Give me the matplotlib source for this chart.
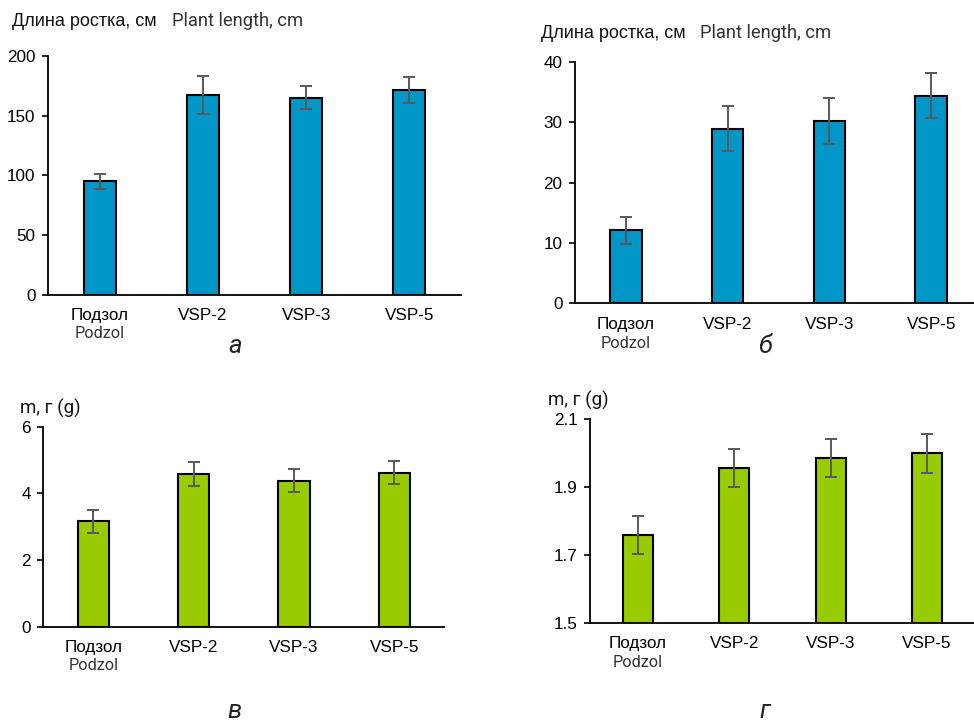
import matplotlib
matplotlib.use("Agg")
import matplotlib.pyplot as plt
import matplotlib.transforms as mtransforms
import numpy as np

categories = ["Подзол", "VSP-2", "VSP-3", "VSP-5"]
sub_label = "Podzol"

len_a = [95.0, 167.5, 165.0, 171.5]
err_a = [6.5, 16.0, 9.5, 10.5]
len_b = [12.1, 28.9, 30.2, 34.4]
err_b = [2.25, 3.7, 3.75, 3.7]
mass_c = [3.16, 4.58, 4.38, 4.62]
err_c = [0.35, 0.35, 0.35, 0.35]
mass_d = [1.759, 1.956, 1.986, 2.000]
err_d = [0.057, 0.056, 0.056, 0.057]

blue = "#0096C8"
green = "#99CC00"
ARIAL = ["Liberation Sans", "DejaVu Sans"]
ROBOTO = ["Roboto", "DejaVu Sans"]

fig = plt.figure(figsize=(9.74, 7.25), dpi=100)

def panel(rect, vals, errs, color, ylim, yticks, yticklabels, sub_dy):
    ax = fig.add_axes(rect)
    x = np.arange(len(vals))
    ax.bar(x, vals, width=0.31, color=color, edgecolor="black", linewidth=1.5, zorder=2)
    ax.errorbar(x, vals, yerr=errs, fmt="none", ecolor="#595959",
                elinewidth=1.4, capsize=4, capthick=1.4, zorder=3)
    ax.set_xlim(-0.5, 3.5)
    ax.set_ylim(*ylim)
    ax.set_yticks(yticks)
    ax.set_yticklabels(yticklabels, fontfamily=ARIAL, fontsize=12.3)
    ax.set_xticks(x)
    ax.set_xticklabels(categories, fontfamily=ARIAL, fontsize=12.3)
    ax.tick_params(axis="x", length=0, pad=9.5)
    ax.tick_params(axis="y", length=4, width=1.2, pad=5, direction="out")
    for s in ["top", "right"]:
        ax.spines[s].set_visible(False)
    for s in ["left", "bottom"]:
        ax.spines[s].set_linewidth(1.3)
        ax.spines[s].set_color("black")
    ax.patch.set_alpha(0)
    trans = mtransforms.blended_transform_factory(ax.transData, ax.transAxes)
    ax.annotate(sub_label, xy=(0, 0), xycoords=trans, xytext=(0, -sub_dy * 0.72),
                textcoords="offset points", ha="center", va="center",
                fontfamily=ROBOTO, fontsize=11.7, color="#333333",
                annotation_clip=False)
    return ax

panel([0.0493, 0.5931, 0.424, 0.3297], len_a, err_a, blue,
      (0, 200), [0, 50, 100, 150, 200], ["0", "50", "100", "150", "200"], 38.5)
panel([0.5903, 0.5816, 0.418, 0.3333], len_b, err_b, blue,
      (0, 40), [0, 10, 20, 30, 40], ["0", "10", "20", "30", "40"], 40)
panel([0.0445, 0.1356, 0.4117, 0.2758], mass_c, err_c, green,
      (0, 6), [0, 2, 4, 6], ["0", "2", "4", "6"], 38.5)
panel([0.6057, 0.1407, 0.3953, 0.2810], mass_d, err_d, green,
      (1.5, 2.1), [1.5, 1.7, 1.9, 2.1], ["1.5", "1.7", "1.9", "2.1"], 40)

def ftext(xp, yp, s, fam, **kw):
    fig.text(xp / 974, 1 - yp / 725, s, fontfamily=fam, va="center", ha="left", **kw)

ftext(12, 21, "Длина ростка, см", ARIAL, fontsize=13, color="#111111")
ftext(172, 21, "Plant length, cm", ROBOTO, fontsize=13.2, color="#333333")
ftext(541, 33, "Длина ростка, см", ARIAL, fontsize=13, color="#111111")
ftext(700, 33, "Plant length, cm", ROBOTO, fontsize=13.2, color="#333333")
ftext(20, 408, "m, г (g)", ROBOTO, fontsize=13.5, color="#111111")
ftext(548, 400, "m, г (g)", ROBOTO, fontsize=13.5, color="#111111")

for xp, yp, s in [(235, 346, "а"), (765, 346, "б"), (235, 711, "в"), (765, 711, "г")]:
    fig.text(xp / 974, 1 - yp / 725, s, fontfamily=ROBOTO, fontstyle="italic",
             fontsize=18.5, ha="center", va="center", color="#222222")

fig.savefig("out.png", dpi=100)
